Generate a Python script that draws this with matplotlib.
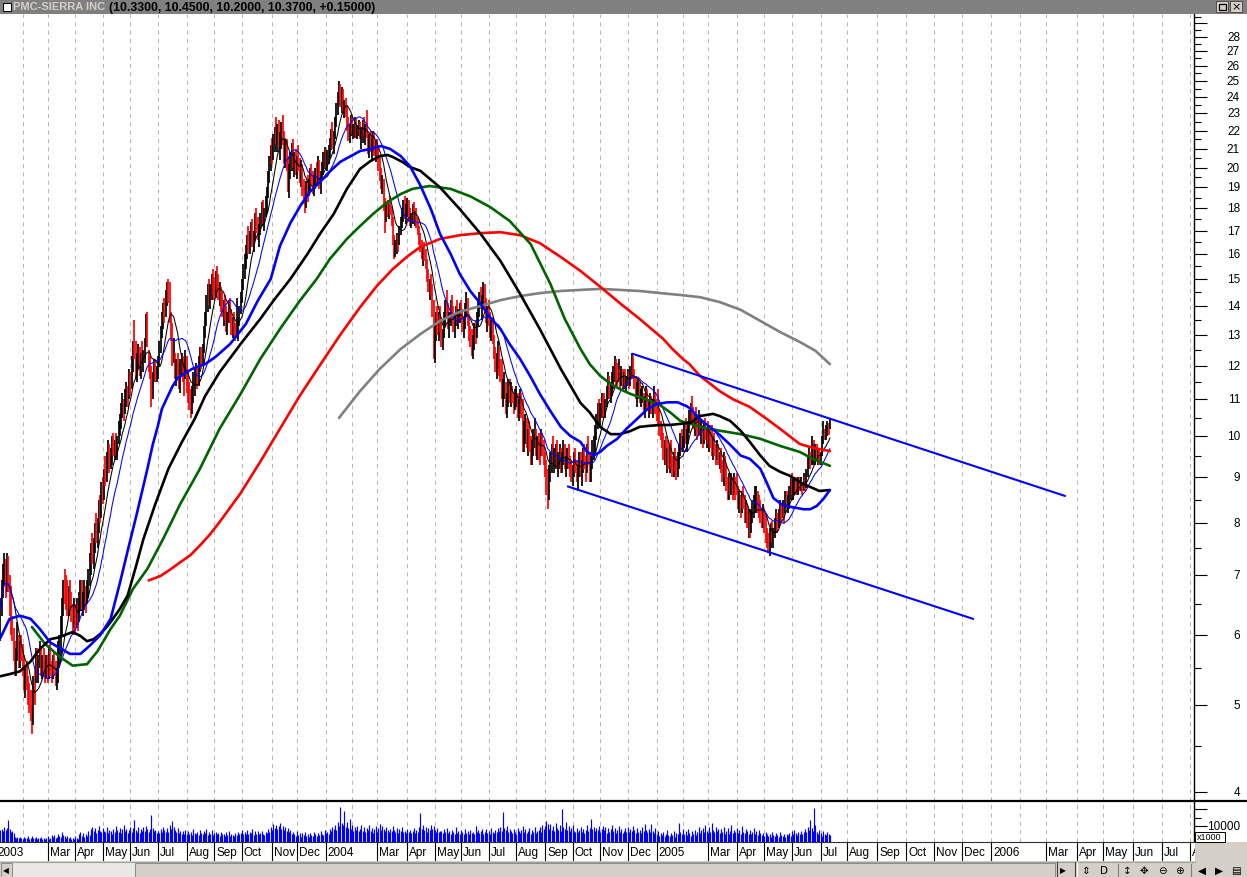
import numpy as np
import pandas as pd
import matplotlib
matplotlib.use("Agg")
import matplotlib.pyplot as plt
import matplotlib.transforms as mtrans
from matplotlib.patches import Rectangle
from matplotlib.lines import Line2D

plt.rcParams['font.family'] = ['Liberation Sans', 'DejaVu Sans']

# ------------------------------------------------------------------ data
title_name = "PMC-SIERRA INC"
title_values = "(10.3300, 10.4500, 10.2000, 10.3700, +0.15000)"

first_session = "2003-01-02"
data_start = "2003-01-08"
axis_end = "2006-08-31"
nyse_holidays = ["2003-01-01", "2003-01-20", "2003-02-17", "2003-04-18", "2003-05-26",
                 "2003-07-04", "2003-09-01", "2003-11-27", "2003-12-25",
                 "2004-01-01", "2004-01-19", "2004-02-16", "2004-04-09", "2004-05-31",
                 "2004-06-11", "2004-07-05", "2004-09-06", "2004-11-25", "2004-12-24",
                 "2005-01-17", "2005-02-21", "2005-03-25", "2005-05-30", "2005-07-04",
                 "2005-09-05", "2005-11-24", "2005-12-26"]
month_names = ["Jan", "Feb", "Mar", "Apr", "May", "Jun",
               "Jul", "Aug", "Sep", "Oct", "Nov", "Dec"]

high = [
    6.6, 6.9, 7.2, 7.4, 7.3, 7.4, 7.35, 7.0, 6.8, 6.3,
    6.1, 5.9, 5.8, 6.2, 6.0, 5.9, 6.0, 5.85, 5.7, 5.5,
    5.6, 5.4, 5.3, 5.2, 5.0, 5.4, 5.5, 5.8, 5.8, 5.7,
    5.9, 5.8, 5.7, 5.8, 5.6, 5.7, 5.7, 5.8, 5.85, 5.6,
    5.7, 5.75, 5.6, 5.5, 5.9, 6.0, 6.3, 6.6, 6.9, 7.1,
    7.0, 6.9, 6.8, 6.9, 6.7, 6.5, 6.6, 6.5, 6.6, 6.5,
    6.7, 6.9, 6.9, 6.7, 6.9, 6.8, 6.9, 7.1, 7.4, 7.6,
    7.8, 7.7, 8.0, 8.2, 8.1, 8.5, 8.6, 8.9, 9.0, 9.2,
    9.5, 9.6, 9.9, 9.8, 9.7, 10.0, 10.1, 9.9, 10.1, 10.0,
    10.4, 10.6, 10.9, 11.2, 11.0, 11.3, 11.5, 11.4, 11.9, 11.8,
    12.3, 12.8, 13.5, 12.8, 12.4, 12.7, 12.6, 12.4, 12.8, 12.5,
    12.9, 13.7, 13.8, 12.5, 12.3, 12.0, 11.8, 12.2, 12.2, 12.0,
    12.3, 12.8, 13.3, 13.8, 14.1, 14.3, 14.6, 14.9, 15.0, 14.9,
    13.8, 13.4, 12.9, 12.4, 12.2, 12.4, 12.1, 12.2, 12.4, 12.3,
    12.0, 12.5, 12.3, 11.8, 11.5, 11.3, 11.4, 11.8, 11.9, 12.1,
    12.0, 12.3, 12.6, 12.6, 12.7, 13.3, 13.8, 14.4, 14.8, 15.0,
    14.8, 15.2, 15.4, 15.1, 15.3, 15.5, 15.2, 14.9, 14.7, 14.5,
    14.2, 14.4, 14.0, 13.8, 14.2, 14.3, 13.9, 13.6, 13.8, 13.4,
    14.3, 13.6, 14.0, 14.5, 15.0, 15.6, 16.0, 16.4, 16.8, 17.2,
    17.0, 17.4, 17.5, 17.0, 17.8, 18.0, 17.6, 17.3, 17.8, 18.3,
    18.4, 18.0, 18.6, 19.0, 19.8, 20.6, 21.2, 21.6, 21.8, 22.2,
    22.8, 22.4, 22.6, 21.9, 22.5, 22.9, 22.0, 21.5, 21.5, 20.6,
    20.2, 20.8, 21.3, 21.5, 20.8, 21.0, 20.6, 21.2, 20.5, 20.4,
    20.2, 19.4, 19.0, 19.3, 19.6, 19.4, 20.0, 20.2, 19.8, 19.6,
    20.0, 20.3, 20.6, 20.4, 19.8, 20.3, 20.8, 21.1, 21.0, 20.9,
    21.2, 21.6, 22.1, 22.5, 22.0, 22.8, 23.6, 24.3, 25.0, 24.8,
    24.6, 24.5, 23.8, 23.9, 23.5, 22.8, 22.4, 22.9, 22.9, 22.4,
    22.8, 22.7, 22.3, 22.6, 22.5, 22.2, 22.6, 22.8, 22.4, 23.2,
    22.0, 21.8, 22.0, 21.6, 22.0, 21.9, 21.4, 21.5, 21.2, 20.6,
    20.0, 19.6, 19.4, 18.5, 18.2, 18.4, 18.2, 18.6, 18.1, 17.6,
    16.8, 16.6, 16.9, 16.8, 17.2, 17.6, 18.0, 18.4, 18.6, 18.2,
    18.5, 18.4, 18.0, 17.8, 18.2, 18.3, 17.9, 18.0, 17.6, 17.2,
    16.9, 16.6, 16.4, 16.5, 16.2, 15.8, 15.4, 15.0, 15.2, 14.8,
    14.2, 13.4, 13.8, 14.0, 13.8, 14.0, 13.6, 13.2, 13.8, 14.2,
    14.6, 14.1, 13.8, 14.2, 14.4, 14.0, 13.7, 14.0, 14.2, 13.9,
    14.1, 14.2, 13.9, 13.6, 14.1, 14.5, 14.3, 13.7, 13.3, 13.2,
    13.0, 13.4, 13.5, 13.8, 14.2, 14.5, 14.7, 14.4, 14.9, 14.8,
    14.3, 14.0, 14.2, 13.8, 13.5, 13.6, 13.0, 12.6, 12.4, 12.8,
    12.6, 12.2, 12.2, 11.6, 11.8, 11.5, 11.2, 11.6, 11.6, 11.5,
    11.4, 11.2, 11.3, 11.4, 11.2, 11.0, 11.3, 11.2, 11.0, 10.4,
    10.6, 10.5, 10.2, 10.4, 10.0, 9.9, 10.2, 10.5, 10.2, 10.0,
    10.1, 9.9, 10.2, 10.1, 9.9, 9.6, 9.4, 9.2, 9.3, 9.6,
    9.8, 10.0, 9.7, 9.8, 9.9, 9.6, 9.8, 9.7, 9.6, 9.9,
    9.8, 9.5, 9.7, 9.8, 9.5, 9.4, 9.3, 9.6, 9.7, 9.4,
    9.3, 9.6, 9.6, 9.4, 9.7, 9.8, 9.5, 9.8, 10.0, 9.6,
    9.5, 9.9, 10.0, 10.3, 10.6, 10.9, 11.0, 10.9, 11.2, 11.1,
    11.2, 11.0, 11.4, 11.8, 11.7, 11.5, 11.8, 12.0, 12.3, 12.2,
    12.1, 12.2, 11.9, 12.0, 11.9, 11.8, 11.9, 11.7, 11.9, 11.8,
    12.0, 12.4, 12.3, 11.9, 11.7, 11.5, 11.6, 11.5, 11.3, 11.4,
    11.2, 11.1, 11.4, 11.3, 11.0, 11.2, 11.1, 11.0, 11.4, 11.2,
    11.0, 11.3, 10.7, 10.4, 10.3, 10.1, 9.9, 10.0, 9.7, 9.9,
    9.8, 9.9, 9.5, 9.6, 9.7, 9.5, 9.6, 9.8, 10.1, 10.2,
    10.0, 10.4, 10.5, 10.2, 10.4, 10.7, 10.9, 11.1, 10.8, 10.6,
    10.8, 10.5, 10.7, 10.6, 10.4, 10.3, 10.4, 10.5, 10.2, 10.4,
    10.2, 10.3, 10.3, 10.0, 10.1, 9.8, 9.9, 9.8, 9.6, 9.7,
    9.4, 9.6, 9.5, 9.3, 9.0, 9.1, 9.0, 9.1, 9.0, 9.1,
    9.0, 9.1, 8.8, 8.7, 8.6, 8.7, 8.8, 8.6, 8.5, 8.4,
    8.3, 8.2, 8.3, 8.5, 8.6, 8.8, 8.8, 8.7, 8.6, 8.5,
    8.3, 8.4, 8.3, 8.2, 7.9, 7.8, 7.9, 8.0, 8.05, 7.9,
    8.1, 8.3, 8.2, 8.3, 8.5, 8.4, 8.5, 8.4, 8.7, 8.7,
    8.6, 8.8, 9.0, 9.1, 9.0, 9.0, 9.0, 8.9, 9.0, 9.0,
    9.0, 8.9, 9.1, 9.0, 9.2, 9.5, 9.7, 9.6, 10.0, 9.8,
    9.9, 9.8, 9.8, 9.7, 9.7, 9.6, 10.0, 10.4, 10.2, 10.3,
    10.4, 10.35, 10.45]

low = [
    5.9, 6.3, 6.6, 6.8, 6.6, 6.7, 6.7, 6.3, 6.0, 5.9,
    5.6, 5.4, 5.4, 5.6, 5.5, 5.5, 5.6, 5.4, 5.2, 5.1,
    5.2, 5.0, 4.9, 4.8, 4.65, 4.75, 5.0, 5.3, 5.4, 5.3,
    5.5, 5.4, 5.35, 5.4, 5.3, 5.35, 5.3, 5.35, 5.4, 5.3,
    5.35, 5.4, 5.25, 5.2, 5.3, 5.5, 5.6, 6.0, 6.3, 6.5,
    6.4, 6.3, 6.3, 6.4, 6.2, 6.0, 6.1, 6.0, 6.1, 6.05,
    6.2, 6.4, 6.4, 6.3, 6.4, 6.35, 6.5, 6.6, 6.8, 7.0,
    7.2, 7.1, 7.4, 7.6, 7.5, 7.8, 8.0, 8.1, 8.4, 8.5,
    8.8, 8.9, 9.2, 9.1, 9.2, 9.3, 9.5, 9.4, 9.5, 9.4,
    9.8, 10.0, 10.2, 10.5, 10.4, 10.6, 10.8, 10.8, 11.0, 11.1,
    11.3, 11.8, 12.2, 11.6, 11.5, 11.9, 11.7, 11.6, 12.0, 11.8,
    12.1, 12.6, 12.6, 11.8, 11.6, 10.8, 11.0, 11.5, 11.5, 11.5,
    11.6, 12.0, 12.4, 12.9, 13.2, 13.4, 13.6, 14.0, 14.1, 13.4,
    12.8, 12.0, 12.1, 11.6, 11.4, 11.6, 11.3, 11.2, 11.7, 11.5,
    11.1, 11.6, 11.2, 10.9, 10.7, 10.5, 10.6, 10.9, 11.1, 11.4,
    11.3, 11.4, 11.8, 11.9, 12.0, 12.4, 12.9, 13.3, 13.8, 14.0,
    13.9, 14.2, 14.4, 14.2, 14.3, 14.5, 14.2, 14.0, 13.8, 13.6,
    13.3, 13.5, 13.1, 13.0, 13.4, 13.4, 13.0, 12.9, 13.0, 12.8,
    12.9, 12.8, 13.3, 13.7, 14.1, 14.6, 15.0, 15.4, 15.8, 16.0,
    16.0, 16.4, 16.3, 16.1, 16.6, 16.9, 16.6, 16.3, 16.8, 17.2,
    17.3, 17.0, 17.6, 17.8, 18.5, 19.2, 19.8, 20.2, 20.4, 20.8,
    21.2, 20.8, 21.0, 20.4, 21.0, 21.2, 20.2, 20.0, 19.8, 18.8,
    18.5, 19.4, 19.8, 20.0, 19.5, 19.6, 19.4, 19.8, 19.2, 19.0,
    18.6, 18.2, 17.8, 18.0, 18.3, 18.6, 18.8, 19.0, 18.7, 18.6,
    18.9, 19.1, 19.2, 18.9, 18.7, 19.3, 19.6, 19.9, 20.0, 19.8,
    20.2, 20.5, 20.9, 21.0, 20.7, 21.5, 22.2, 22.9, 23.5, 23.4,
    23.0, 23.1, 22.7, 22.8, 22.0, 21.4, 21.3, 21.7, 21.8, 21.5,
    21.6, 21.6, 21.5, 21.7, 21.5, 21.0, 21.3, 21.7, 21.2, 21.6,
    20.7, 20.5, 20.8, 20.4, 20.8, 20.6, 20.3, 20.4, 19.8, 19.3,
    18.9, 18.7, 17.9, 16.9, 17.4, 17.6, 17.5, 17.7, 17.2, 16.4,
    15.8, 15.9, 16.0, 16.1, 16.4, 16.8, 17.1, 17.4, 17.5, 17.3,
    17.6, 17.4, 17.2, 17.1, 17.3, 17.4, 17.2, 17.1, 16.8, 16.4,
    16.1, 15.8, 15.5, 15.7, 15.4, 14.9, 14.5, 14.2, 14.4, 13.6,
    12.2, 12.1, 12.8, 13.0, 12.8, 13.1, 12.6, 12.5, 12.9, 13.3,
    13.6, 13.2, 12.9, 13.3, 13.5, 13.1, 12.9, 13.3, 13.4, 13.2,
    13.4, 13.5, 13.1, 12.9, 13.2, 13.6, 13.3, 12.8, 12.6, 12.3,
    12.2, 12.5, 12.7, 12.9, 13.3, 13.6, 13.9, 13.5, 13.9, 13.8,
    13.4, 13.1, 13.3, 12.9, 12.8, 12.7, 12.2, 11.8, 11.6, 11.9,
    11.7, 11.5, 11.0, 10.8, 11.0, 10.6, 10.5, 10.8, 10.9, 10.8,
    10.9, 10.6, 10.7, 10.8, 10.5, 10.4, 10.6, 10.5, 9.6, 9.6,
    9.8, 9.7, 9.5, 9.6, 9.3, 9.3, 9.5, 9.7, 9.5, 9.4,
    9.4, 9.3, 9.5, 9.5, 9.3, 9.0, 8.6, 8.3, 8.5, 8.9,
    9.1, 9.3, 9.1, 9.2, 9.2, 9.0, 9.2, 9.1, 9.1, 9.3,
    9.2, 9.0, 9.2, 9.2, 9.0, 8.9, 8.8, 9.0, 9.1, 8.9,
    8.7, 9.0, 9.0, 8.8, 9.1, 9.2, 8.9, 9.1, 9.3, 8.9,
    8.9, 9.2, 9.4, 9.6, 9.9, 10.2, 10.4, 10.3, 10.5, 10.5,
    10.6, 10.5, 10.8, 11.0, 11.0, 10.9, 11.1, 11.3, 11.5, 11.4,
    11.4, 11.5, 11.3, 11.4, 11.3, 11.3, 11.4, 11.2, 11.4, 11.3,
    11.4, 11.7, 11.6, 11.3, 11.0, 10.8, 11.0, 10.9, 10.8, 10.9,
    10.6, 10.5, 10.8, 10.7, 10.5, 10.6, 10.6, 10.5, 10.8, 10.6,
    10.4, 10.3, 10.0, 9.9, 9.7, 9.4, 9.3, 9.3, 9.1, 9.2,
    9.1, 9.2, 9.0, 9.0, 9.1, 8.95, 9.0, 9.2, 9.5, 9.6,
    9.6, 9.7, 9.8, 9.6, 9.8, 10.1, 10.3, 10.4, 10.2, 10.0,
    10.2, 9.9, 10.0, 10.0, 9.8, 9.7, 9.8, 9.9, 9.7, 9.8,
    9.6, 9.7, 9.5, 9.4, 9.5, 9.3, 9.4, 9.3, 9.2, 9.1,
    8.9, 8.8, 9.0, 8.7, 8.5, 8.5, 8.6, 8.6, 8.5, 8.6,
    8.5, 8.6, 8.3, 8.2, 8.1, 8.2, 8.3, 8.0, 8.0, 7.9,
    7.7, 7.7, 7.8, 8.0, 8.1, 8.3, 8.2, 8.2, 8.1, 8.0,
    7.9, 7.9, 7.8, 7.6, 7.5, 7.4, 7.35, 7.5, 7.6, 7.5,
    7.7, 7.8, 7.8, 7.9, 8.0, 8.0, 8.1, 8.0, 8.2, 8.3,
    8.2, 8.3, 8.5, 8.6, 8.5, 8.6, 8.6, 8.6, 8.6, 8.7,
    8.7, 8.6, 8.7, 8.7, 8.75, 9.0, 9.2, 9.2, 9.3, 9.3,
    9.4, 9.3, 9.4, 9.3, 9.3, 9.3, 9.5, 9.8, 9.9, 9.9,
    10.0, 10.05, 10.2]

close = [
    6.4, 6.8, 7.0, 7.2, 6.8, 6.9, 6.75, 6.4, 6.1, 6.0,
    5.7, 5.5, 5.7, 6.0, 5.6, 5.8, 5.7, 5.5, 5.3, 5.4,
    5.3, 5.1, 5.0, 4.9, 4.8, 5.3, 5.1, 5.6, 5.5, 5.6,
    5.7, 5.5, 5.6, 5.5, 5.4, 5.6, 5.4, 5.7, 5.5, 5.4,
    5.6, 5.5, 5.3, 5.35, 5.8, 5.9, 6.2, 6.5, 6.8, 6.7,
    6.6, 6.4, 6.6, 6.5, 6.3, 6.1, 6.4, 6.2, 6.3, 6.15,
    6.6, 6.8, 6.5, 6.6, 6.8, 6.5, 6.85, 7.0, 7.3, 7.5,
    7.3, 7.6, 7.9, 7.7, 8.0, 8.4, 8.2, 8.8, 8.6, 9.1,
    9.0, 9.4, 9.7, 9.3, 9.5, 9.9, 9.6, 9.8, 9.6, 9.9,
    10.3, 10.5, 10.8, 11.0, 10.6, 11.2, 11.4, 11.0, 11.7, 11.3,
    12.1, 12.6, 12.4, 11.8, 12.2, 12.5, 11.9, 12.2, 12.1, 12.4,
    12.8, 13.5, 12.8, 12.0, 11.8, 11.0, 11.6, 12.0, 11.7, 11.9,
    12.2, 12.7, 13.1, 13.6, 13.9, 13.8, 14.4, 14.7, 14.3, 13.6,
    13.0, 12.3, 12.6, 11.8, 12.0, 11.9, 11.5, 12.0, 12.2, 11.7,
    11.4, 12.3, 11.4, 11.1, 10.9, 10.7, 11.2, 11.6, 11.7, 11.9,
    11.5, 12.2, 12.4, 12.0, 12.6, 13.2, 13.6, 14.1, 14.6, 14.3,
    14.5, 15.0, 14.8, 14.5, 15.1, 14.9, 14.4, 14.6, 14.0, 13.8,
    14.0, 13.7, 13.3, 13.6, 14.0, 13.6, 13.2, 13.4, 13.2, 13.0,
    13.1, 13.5, 13.9, 14.3, 14.8, 15.4, 15.8, 16.2, 16.6, 16.4,
    16.8, 17.2, 16.5, 16.8, 17.6, 17.2, 16.9, 17.1, 17.6, 18.1,
    17.5, 17.8, 18.4, 18.9, 19.6, 20.4, 21.0, 20.6, 21.5, 22.0,
    21.6, 22.1, 21.3, 21.6, 22.2, 21.5, 20.5, 21.2, 20.0, 19.0,
    19.8, 20.5, 21.0, 20.3, 20.6, 19.8, 20.2, 20.0, 19.4, 20.0,
    18.8, 18.5, 18.2, 19.1, 18.6, 19.2, 19.8, 19.3, 19.0, 19.4,
    19.7, 19.5, 20.3, 19.2, 19.6, 20.1, 20.5, 20.9, 20.3, 20.7,
    21.0, 21.4, 21.8, 21.2, 21.8, 22.6, 23.4, 24.1, 24.6, 23.8,
    24.2, 23.3, 23.5, 23.0, 22.2, 21.6, 22.1, 22.6, 22.0, 22.2,
    22.5, 21.8, 22.1, 22.4, 21.7, 21.9, 22.3, 21.9, 22.2, 21.8,
    21.0, 21.5, 21.1, 21.3, 21.8, 20.8, 21.1, 20.6, 20.0, 19.5,
    19.2, 19.3, 18.0, 17.2, 18.0, 17.9, 18.1, 17.9, 17.4, 16.6,
    16.2, 16.4, 16.7, 16.6, 17.0, 17.4, 17.8, 18.2, 17.7, 18.0,
    18.3, 17.6, 17.4, 17.6, 18.0, 17.5, 17.7, 17.3, 17.0, 16.6,
    16.3, 16.0, 16.1, 15.9, 15.6, 15.1, 14.7, 14.8, 14.6, 13.8,
    12.5, 13.1, 13.6, 13.2, 13.5, 13.3, 12.8, 13.0, 13.6, 14.0,
    13.8, 13.4, 13.6, 14.0, 13.7, 13.3, 13.5, 13.8, 13.6, 13.7,
    14.0, 13.6, 13.3, 13.4, 13.9, 14.2, 13.5, 13.0, 12.9, 12.6,
    12.8, 13.2, 12.9, 13.6, 14.0, 14.3, 14.1, 14.2, 14.6, 14.0,
    13.6, 13.8, 13.5, 13.1, 13.3, 12.9, 12.4, 12.0, 12.2, 12.5,
    11.9, 11.7, 11.2, 11.4, 11.6, 10.8, 11.0, 11.4, 11.2, 11.3,
    11.0, 10.9, 11.1, 11.2, 10.7, 10.8, 11.1, 10.6, 9.8, 10.2,
    10.4, 9.9, 10.0, 9.8, 9.5, 9.7, 10.0, 10.2, 9.7, 9.8,
    9.6, 9.5, 10.0, 9.7, 9.4, 9.2, 8.8, 8.6, 9.1, 9.4,
    9.6, 9.4, 9.5, 9.7, 9.3, 9.4, 9.6, 9.2, 9.5, 9.7,
    9.3, 9.4, 9.6, 9.3, 9.2, 9.1, 9.2, 9.5, 9.3, 9.0,
    9.2, 9.5, 9.2, 9.3, 9.6, 9.4, 9.1, 9.7, 9.5, 9.0,
    9.4, 9.8, 9.9, 10.2, 10.5, 10.8, 10.6, 10.8, 11.0, 10.9,
    10.7, 10.9, 11.2, 11.6, 11.1, 11.3, 11.7, 11.8, 12.1, 11.9,
    11.6, 11.6, 11.5, 11.8, 11.4, 11.6, 11.5, 11.6, 11.8, 11.4,
    11.9, 12.2, 11.8, 11.5, 11.2, 11.3, 11.4, 11.0, 11.1, 11.3,
    10.9, 11.0, 11.2, 10.8, 10.9, 11.1, 10.8, 10.9, 11.0, 10.7,
    10.6, 10.4, 10.2, 10.0, 9.8, 9.6, 9.7, 9.4, 9.6, 9.5,
    9.7, 9.3, 9.2, 9.4, 9.2, 9.1, 9.5, 9.7, 10.0, 9.8,
    9.9, 10.1, 9.9, 10.1, 10.3, 10.6, 10.8, 10.6, 10.4, 10.5,
    10.3, 10.2, 10.6, 10.1, 10.2, 9.9, 10.3, 10.0, 10.1, 9.9,
    10.0, 9.8, 9.6, 9.8, 9.6, 9.5, 9.7, 9.4, 9.5, 9.2,
    9.0, 9.4, 9.1, 8.8, 8.6, 8.9, 8.7, 9.0, 8.6, 8.9,
    8.8, 8.7, 8.4, 8.5, 8.2, 8.6, 8.4, 8.1, 8.3, 8.0,
    8.1, 7.8, 8.2, 8.3, 8.5, 8.6, 8.7, 8.3, 8.2, 8.1,
    8.0, 8.2, 7.9, 7.7, 7.6, 7.5, 7.8, 7.9, 7.7, 7.8,
    8.0, 8.2, 8.0, 8.2, 8.4, 8.1, 8.4, 8.2, 8.6, 8.5,
    8.5, 8.7, 8.9, 8.7, 8.8, 8.9, 8.8, 8.7, 8.9, 8.8,
    8.9, 8.8, 9.0, 8.8, 9.1, 9.4, 9.6, 9.3, 9.5, 9.7,
    9.6, 9.7, 9.5, 9.6, 9.4, 9.5, 9.9, 10.2, 10.0, 10.1,
    10.3, 10.22, 10.37]

volume_m = [  # millions of shares
    7.5, 8.2, 6.9, 9.0, 7.1, 8.4, 13.5, 7.8, 6.2, 7.0,
    5.5, 3.1, 2.4, 2.9, 2.2, 3.0, 2.6, 2.1, 2.8, 2.3,
    2.5, 3.4, 2.0, 2.7, 3.6, 2.4, 2.2, 2.9, 2.1, 2.6,
    2.3, 3.2, 2.0, 2.5, 1.8, 2.4, 3.5, 2.1, 2.7, 4.2,
    3.0, 4.5, 2.6, 3.3, 5.1, 3.8, 2.9, 6.0, 4.2, 3.5,
    2.4, 3.9, 2.2, 3.0, 1.9, 2.6, 1.8, 3.4, 2.3, 2.0,
    4.6, 6.2, 3.7, 5.5, 2.8, 4.9, 3.6, 6.8, 4.1, 7.9,
    9.4, 6.5, 8.8, 5.7, 7.2, 10.1, 6.6, 5.9, 8.3, 7.0,
    6.1, 9.2, 5.4, 7.5, 6.8, 5.2, 8.0, 6.3, 9.6, 7.1,
    6.4, 8.7, 5.8, 7.7, 10.4, 6.9, 8.1, 5.6, 7.3, 9.0,
    6.2, 8.5, 13.6, 7.4, 6.0, 8.9, 5.5, 7.8, 6.7, 9.3,
    7.0, 9.5, 8.2, 6.3, 7.9, 16.5, 8.6, 6.5, 7.4, 5.7,
    6.9, 5.3, 8.0, 6.1, 9.1, 7.2, 6.4, 8.8, 5.9, 10.2,
    8.1, 12.8, 9.3, 7.5, 6.2, 8.6, 5.4, 7.0, 4.8, 6.5,
    5.2, 7.4, 4.6, 6.8, 5.0, 6.1, 4.3, 7.7, 5.6, 4.9,
    6.3, 4.4, 7.1, 5.3, 4.7, 6.6, 5.8, 7.9, 4.5, 6.0,
    5.1, 7.3, 4.2, 5.7, 6.4, 4.8, 5.5, 3.9, 6.2, 4.6,
    5.0, 3.8, 5.9, 4.4, 6.7, 3.6, 5.2, 4.1, 3.5, 5.4,
    4.0, 6.1, 4.7, 5.8, 7.5, 4.9, 6.3, 5.1, 7.2, 4.6,
    6.0, 5.3, 8.1, 4.4, 6.6, 5.0, 7.0, 4.8, 5.5, 6.9,
    5.2, 4.3, 6.4, 5.7, 7.8, 6.1, 9.0, 7.3, 11.2, 8.5,
    10.6, 7.9, 9.8, 11.5, 8.2, 10.1, 7.4, 9.2, 6.8, 8.6,
    5.9, 7.6, 4.8, 6.2, 5.0, 3.7, 6.9, 4.5, 5.6, 3.2,
    5.3, 4.1, 6.0, 3.6, 4.8, 2.9, 5.5, 4.2, 3.4, 6.4,
    4.6, 3.8, 5.7, 4.3, 6.5, 5.1, 4.0, 7.3, 5.4, 6.2,
    5.0, 7.8, 6.6, 9.2, 8.0, 10.5, 7.5, 12.0, 9.6, 21.7,
    11.5, 10.2, 18.8, 9.4, 12.2, 8.5, 14.0, 7.9, 10.6, 6.8,
    8.9, 7.2, 9.9, 6.5, 8.1, 10.4, 7.0, 9.1, 6.3, 8.4,
    7.6, 10.2, 6.9, 8.8, 5.8, 7.7, 9.5, 6.4, 8.3, 10.8,
    7.4, 9.7, 8.0, 6.6, 8.9, 7.1, 5.9, 8.2, 6.8, 9.9,
    7.3, 6.0, 8.5, 5.6, 7.8, 6.5, 9.2, 6.1, 7.0, 5.4,
    8.0, 6.3, 7.5, 5.8, 6.9, 8.6, 5.5, 7.2, 6.0, 9.4,
    17.6, 8.2, 10.5, 7.1, 9.0, 6.4, 8.7, 7.6, 10.3, 8.1,
    9.8, 7.4, 6.2, 8.5, 5.9, 7.0, 6.6, 5.3, 7.7, 6.1,
    8.4, 5.7, 6.8, 5.2, 7.3, 6.0, 4.9, 8.9, 5.6, 6.5,
    5.1, 7.6, 6.2, 4.8, 8.0, 5.5, 6.9, 4.6, 7.1, 5.8,
    6.4, 4.7, 9.5, 5.9, 7.2, 5.3, 6.6, 8.1, 5.0, 6.3,
    7.8, 5.4, 6.7, 4.9, 8.3, 6.1, 5.6, 7.4, 6.0, 8.6,
    6.8, 9.2, 7.0, 18.2, 8.8, 7.5, 10.1, 6.4, 8.0, 6.9,
    5.7, 7.7, 6.2, 5.1, 8.4, 6.6, 5.4, 7.2, 9.6, 6.3,
    7.9, 5.8, 6.5, 8.8, 5.2, 7.1, 6.0, 9.0, 5.5, 6.7,
    7.4, 8.9, 6.3, 10.4, 7.8, 9.5, 12.6, 11.0, 8.2, 10.8,
    7.5, 9.9, 6.8, 11.8, 8.4, 7.2, 10.6, 6.9, 20.0, 9.3,
    8.1, 12.2, 7.4, 9.6, 6.5, 8.7, 10.2, 7.0, 6.1, 8.3,
    5.9, 7.6, 9.0, 6.4, 8.0, 5.7, 7.3, 10.5, 6.6, 8.4,
    14.1, 7.9, 9.4, 6.8, 8.6, 7.2, 9.7, 6.3, 8.1, 10.0,
    7.1, 9.1, 5.8, 8.5, 6.4, 7.7, 10.3, 6.9, 8.8, 5.6,
    7.4, 9.6, 6.2, 8.0, 5.5, 7.0, 8.7, 6.0, 9.3, 5.9,
    7.8, 6.5, 10.1, 7.2, 5.7, 8.4, 6.3, 7.6, 5.4, 9.0,
    6.6, 11.2, 7.5, 5.9, 8.2, 6.4, 10.9, 7.0, 5.6, 8.3,
    4.8, 6.9, 3.9, 5.5, 4.4, 6.2, 3.6, 5.1, 7.4, 4.2,
    3.4, 5.6, 4.0, 6.8, 3.2, 5.3, 4.6, 11.8, 6.0, 4.9,
    7.7, 5.2, 6.5, 4.3, 8.0, 5.8, 3.9, 6.7, 5.0, 7.2,
    4.5, 6.1, 9.0, 5.4, 7.6, 8.5, 6.2, 10.6, 7.0, 5.7,
    8.9, 6.4, 11.5, 7.3, 5.9, 9.4, 6.8, 8.2, 5.5, 7.8,
    6.3, 9.1, 5.2, 7.0, 8.6, 4.9, 6.6, 10.4, 5.8, 7.4,
    6.0, 8.8, 5.3, 7.1, 4.7, 9.6, 6.2, 5.5, 8.0, 6.7,
    5.1, 7.5, 4.6, 6.3, 8.4, 5.0, 6.9, 4.4, 7.2, 5.6,
    4.1, 5.8, 3.5, 6.4, 4.6, 3.9, 5.2, 3.3, 6.1, 4.3,
    3.7, 5.5, 4.0, 3.2, 6.0, 4.5, 3.6, 5.1, 3.0, 4.8,
    4.2, 5.7, 3.8, 6.6, 4.9, 7.4, 5.3, 4.0, 6.2, 5.0,
    7.0, 4.6, 5.9, 8.1, 6.4, 9.3, 7.6, 13.5, 8.8, 6.9,
    21.0, 10.4, 6.1, 4.8, 7.2, 5.5, 3.9, 6.7, 5.1, 4.4,
    6.3, 5.0, 4.2]

# long moving averages: (bar number, value)
blue_avg_bar = [0, 7, 15, 23, 30, 38, 45, 53, 61, 68, 76, 84, 91, 97, 104, 112, 116, 120,
                123, 127, 131, 135, 141, 146, 151, 156, 164, 175, 187, 196, 206, 213, 221,
                229, 236, 244, 251, 259, 267, 274, 282, 290, 297, 305, 312, 320, 328, 335,
                343, 350, 358, 366, 373, 381, 388, 396, 404, 411, 419, 427, 434, 442, 447,
                452, 457, 462, 470, 477, 485, 493, 500, 508, 516, 523, 526, 533, 548, 556,
                564, 571, 579, 584, 589, 596, 604, 612, 617, 622, 627, 632]
blue_avg = [5.95, 6.25, 6.3, 6.25, 6.09, 5.88, 5.8, 5.71, 5.71, 5.83, 5.99, 6.25, 6.85,
            7.45, 8.2, 9.2, 9.78, 10.28, 10.73, 11.05, 11.37, 11.62, 11.78, 11.9, 11.98,
            12.05, 12.28, 12.69, 13.36, 14.18, 15.01, 16.34, 17.34, 18.17, 18.8, 19.3,
            19.8, 20.3, 20.6, 20.87, 20.98, 21.14, 20.98, 20.6, 20.08, 19.1, 17.97, 16.85,
            16.01, 15.2, 14.55, 14.07, 13.6, 13.19, 12.69, 12.21, 11.66, 11.16, 10.68,
            10.25, 10.02, 9.86, 9.61, 9.52, 9.61, 9.76, 9.94, 10.2, 10.46, 10.73, 10.87,
            10.92, 10.92, 10.81, 10.73, 10.46, 10.04, 9.79, 9.52, 9.44, 9.2, 8.87, 8.53,
            8.38, 8.33, 8.29, 8.29, 8.36, 8.51, 8.71]

black_avg_bar = [0, 7, 15, 23, 30, 38, 45, 51, 55, 61, 66, 71, 76, 81, 84, 91, 97, 103,
                 109, 118, 128, 138, 148, 156, 167, 183, 198, 209, 221, 234, 244, 254, 264,
                 274, 282, 289, 295, 299, 306, 312, 320, 335, 350, 366, 381, 396, 411, 427,
                 442, 449, 457, 465, 472, 480, 487, 495, 503, 510, 518, 526, 533, 543, 548,
                 556, 564, 571, 579, 586, 594, 602, 609, 617, 624, 632]
black_avg = [5.39, 5.42, 5.46, 5.6, 5.78, 5.93, 5.96, 6.01, 6.04, 5.98, 5.9, 5.93, 6.01,
             6.12, 6.2, 6.41, 6.64, 7.13, 7.68, 8.4, 9.2, 9.84, 10.46, 11.1, 11.8, 12.69,
             13.54, 14.25, 15.01, 16.01, 16.9, 17.75, 18.93, 19.93, 20.34, 20.6, 20.66,
             20.55, 20.3, 20.03, 19.83, 19.0, 17.97, 16.85, 15.72, 14.44, 13.19, 11.9,
             10.9, 10.64, 10.25, 10.06, 10.06, 10.14, 10.25, 10.28, 10.3, 10.3, 10.33,
             10.36, 10.54, 10.6, 10.54, 10.41, 10.15, 9.86, 9.52, 9.27, 9.13, 9.03, 8.89,
             8.78, 8.69, 8.71]

green_avg_bar = [24, 34, 45, 55, 66, 74, 84, 91, 101, 112, 124, 137, 152, 167, 183, 198,
                 213, 228, 241, 251, 264, 274, 284, 295, 305, 314, 327, 343, 358, 373, 388,
                 404, 419, 430, 442, 449, 457, 465, 472, 480, 487, 495, 503, 510, 518, 526,
                 533, 548, 564, 579, 594, 609, 619, 632]
green_avg = [6.12, 5.86, 5.67, 5.54, 5.56, 5.75, 6.09, 6.3, 6.75, 7.11, 7.68, 8.4, 9.2,
             10.2, 11.16, 12.21, 13.19, 14.18, 15.01, 15.8, 16.64, 17.2, 17.75, 18.3,
             18.68, 18.93, 19.07, 18.93, 18.57, 18.07, 17.43, 16.42, 14.82, 13.54, 12.53,
             12.05, 11.69, 11.45, 11.3, 11.16, 11.07, 10.96, 10.83, 10.65, 10.41, 10.33,
             10.25, 10.15, 10.06, 9.94, 9.76, 9.61, 9.44, 9.27]

red_avg_bar = [113, 122, 129, 137, 145, 152, 160, 167, 183, 198, 213, 228, 244, 259, 274,
               287, 299, 310, 320, 335, 350, 366, 381, 396, 411, 427, 442, 457, 472, 487,
               505, 512, 520, 525, 533, 541, 548, 558, 571, 584, 594, 602, 609, 617, 624, 632]
red_avg = [6.9, 6.98, 7.09, 7.23, 7.37, 7.55, 7.78, 8.02, 8.64, 9.37, 10.2, 11.1, 12.05,
           13.0, 13.95, 14.75, 15.4, 15.9, 16.3, 16.64, 16.8, 16.89, 16.93, 16.8, 16.46,
           15.88, 15.32, 14.71, 14.1, 13.54, 12.86, 12.53, 12.21, 12.05, 11.69, 11.45,
           11.24, 11.01, 10.79, 10.46, 10.2, 9.99, 9.81, 9.73, 9.68, 9.63]

gray_avg_bar = [258, 274, 289, 305, 320, 335, 350, 366, 381, 396, 411, 427, 442, 457, 472,
                487, 503, 518, 533, 548, 564, 579, 594, 609, 621, 632]
gray_avg = [10.49, 11.24, 11.9, 12.53, 13.02, 13.47, 13.79, 14.0, 14.21, 14.36, 14.47,
            14.55, 14.59, 14.63, 14.59, 14.55, 14.47, 14.4, 14.32, 14.14, 13.86, 13.47,
            13.09, 12.76, 12.47, 12.05]

# hand-drawn trend channel (bar number, price)
upper_trend_bar = [482, 811]
upper_trend = [12.37, 8.58]
lower_trend_bar = [432.5, 741]
lower_trend = [8.79, 6.25]

price_tick_values = list(range(4, 30))
price_tick_labels = [str(v) for v in range(4, 29)] + [""]
price_minor_values = [v + 0.5 for v in range(4, 30)]
volume_tick_values = [10000, 20000]
volume_tick_labels = ["10000", ""]
volume_minor_values = [5000, 15000]

# ------------------------------------------------------------------ calendar
n = min(len(high), len(low), len(close), len(volume_m))
high = np.array(high[:n]); low = np.array(low[:n]); close = np.array(close[:n])
vol = np.array(volume_m[:n]) * 1000.0   # thousands of shares

hist_all = pd.bdate_range(first_session, "2005-12-30", freq="C", holidays=nyse_holidays)
start_idx = int(hist_all.get_loc(pd.Timestamp(data_start)))
hist = hist_all[:start_idx + n]
future = pd.bdate_range(hist[-1] + pd.Timedelta(days=1), axis_end, freq="B")
cal = hist.append(future)
xs = start_idx + np.arange(n)

mon = cal.month.values
month_idx = [0] + [i for i in range(1, len(cal)) if mon[i] != mon[i - 1]]

prev = np.r_[close[0], close[:-1]]
bar_colors = np.where(close >= prev, "#000000", "#FF0000")
sma_fast = pd.Series(close).rolling(10, min_periods=1).mean().values
sma_mid = pd.Series(close).rolling(20, min_periods=1).mean().values

# ------------------------------------------------------------------ figure
W, H = 1247, 878
fig = plt.figure(figsize=(W / 100, H / 100), dpi=100)
fig.patch.set_facecolor("white")


def frect(x0, y0, x1, y1):
    return [x0 / W, 1 - y1 / H, (x1 - x0) / W, (y1 - y0) / H]


def fig_box(x0, y0, x1, y1, **kw):
    r = Rectangle((x0 / W, 1 - y1 / H), (x1 - x0) / W, (y1 - y0) / H,
                  transform=fig.transFigure, **kw)
    fig.add_artist(r)
    return r


def fig_line(x0, y0, x1, y1, **kw):
    fig.add_artist(Line2D([x0 / W, x1 / W], [1 - y0 / H, 1 - y1 / H],
                          transform=fig.transFigure, **kw))


def fig_txt(x, y, s, **kw):
    return fig.text(x / W, 1 - y / H, s, **kw)


PX_PER_BAR = 1.3125
X0 = 3.70
XLIM = (X0, X0 + 1194 / PX_PER_BAR)

ax = fig.add_axes(frect(0, 15, 1194, 802))
axv = fig.add_axes(frect(0, 803, 1194, 843))
axd = fig.add_axes(frect(0, 843, 1195, 862))

grid_kw = dict(color="#B8B8B8", lw=0.75, ls=(0, (4, 4)), zorder=0)

# ---- price panel
ax.set_yscale("log")
ax.set_xlim(*XLIM)
ax.set_ylim(3.908, 29.71)
for m in month_idx:
    ax.axvline(m, **grid_kw)
ax.vlines(xs, low, high, colors=bar_colors, lw=1.25, zorder=2)
ax.plot(xs, sma_fast, color="black", lw=0.75, zorder=3)
ax.plot(xs, sma_mid, color="#0000FF", lw=0.75, zorder=3)
thick = dict(lw=1.9, zorder=4, solid_capstyle="round", solid_joinstyle="round")
ax.plot(start_idx + np.array(gray_avg_bar), gray_avg, color="#808080", **thick)
ax.plot(start_idx + np.array(red_avg_bar), red_avg, color="#FF0000", **thick)
ax.plot(start_idx + np.array(green_avg_bar), green_avg, color="#006400", **thick)
ax.plot(start_idx + np.array(black_avg_bar), black_avg, color="#000000", **thick)
ax.plot(start_idx + np.array(blue_avg_bar), blue_avg, color="#0000FF", **thick)
ax.plot(start_idx + np.array(upper_trend_bar), upper_trend, color="#0000FF", lw=1.5, zorder=5)
ax.plot(start_idx + np.array(lower_trend_bar), lower_trend, color="#0000FF", lw=1.5, zorder=5)

for s in ["left", "top", "bottom"]:
    ax.spines[s].set_visible(False)
ax.spines["right"].set_linewidth(1.0)
ax.set_xticks([])
ax.yaxis.tick_right()
ax.set_yticks(price_tick_values)
ax.set_yticks(price_minor_values, minor=True)
ax.tick_params(axis="y", which="major", length=9, width=0.8, labelright=False, right=True, left=False)
ax.tick_params(axis="y", which="minor", length=5, width=0.8, labelright=False, right=True, left=False)
btr = mtrans.blended_transform_factory(ax.transAxes, ax.transData)
for v, lab in zip(price_tick_values, price_tick_labels):
    ax.text(1240 / 1194, v, lab, transform=btr, ha="right", va="center",
            fontsize=8.5, clip_on=False)

# ---- volume panel
axv.set_xlim(*XLIM)
axv.set_ylim(0, 24500)
for m in month_idx:
    axv.axvline(m, **grid_kw)
axv.vlines(xs, 0, vol, colors="#0000FF", lw=0.85, zorder=2)
for s in ["left", "top", "bottom"]:
    axv.spines[s].set_visible(False)
axv.spines["right"].set_linewidth(1.0)
axv.set_xticks([])
axv.yaxis.tick_right()
axv.set_yticks(volume_tick_values)
axv.set_yticks(volume_minor_values, minor=True)
axv.tick_params(axis="y", which="major", length=9, width=0.8, labelright=False, right=True, left=False)
axv.tick_params(axis="y", which="minor", length=5, width=0.8, labelright=False, right=True, left=False)
btv = mtrans.blended_transform_factory(axv.transAxes, axv.transData)
for v, lab in zip(volume_tick_values, volume_tick_labels):
    axv.text(1240 / 1194, v, lab, transform=btv, ha="right", va="center",
             fontsize=8.5, clip_on=False)

# ---- date band
axd.set_xlim(X0, X0 + 1195 / PX_PER_BAR)
axd.set_ylim(0, 1)
axd.set_xticks([]); axd.set_yticks([])
for s in axd.spines.values():
    s.set_visible(False)
lab_tr = mtrans.offset_copy(axd.transData, fig=fig, x=2, y=0, units="dots")
for m in month_idx:
    d = cal[m]
    if d.month == 2:
        continue
    axd.axvline(m, color="black", lw=0.8)
    txt = str(d.year) if d.month == 1 else month_names[d.month - 1]
    axd.text(m, 0.45, txt, transform=lab_tr, ha="left", va="center",
             fontsize=8.5, clip_on=True)

# ---- frame, separators
fig_line(0, 802, W, 802, color="black", lw=1.6)
fig_line(0, 843, 1195, 843, color="#303030", lw=0.8)
fig_box(1195, 843, W, 862, facecolor="#D4D0C8", edgecolor="none")
fig_box(0, 862, W, H, facecolor="#D4D0C8", edgecolor="none")
fig_line(0, 862.5, 1195, 862.5, color="#A0A0A0", lw=0.8)
fig_box(1195, 833, 1225, 843, facecolor="white", edgecolor="black", lw=0.7)
fig_txt(1197, 838, "x1000", fontsize=6.5, va="center", ha="left")

# title bar
fig_box(0, 0, W, 15, facecolor="#808080", edgecolor="none")
fig_box(3, 4, 11, 12, facecolor="white", edgecolor="black", lw=0.7)
t1 = fig_txt(13, 7.5, title_name, color="#D4D0C8", fontsize=8.0, fontweight="bold",
             va="center")
renderer = fig.canvas.get_renderer()
bb = t1.get_window_extent(renderer=renderer)
fig.text(bb.x1 / W + 4 / W, 1 - 7.5 / H, title_values, color="black", fontsize=8.8,
         fontweight="bold", va="center")
fig_box(1216, 2, 1228, 13, facecolor="#D4D0C8", edgecolor="#404040", lw=0.6)
fig_box(1218.5, 4.5, 1225.5, 10.5, facecolor="none", edgecolor="black", lw=0.9)
fig_box(1230, 2, 1242, 13, facecolor="#D4D0C8", edgecolor="#404040", lw=0.6)
fig_txt(1236, 7.5, "×", fontsize=8, ha="center", va="center", family="DejaVu Sans")

# scrollbar + toolbar
fig_box(0.5, 864, 12, 877.5, facecolor="#D4D0C8", edgecolor="#808080", lw=0.6)
fig_txt(6, 871, "◀", fontsize=5.5, ha="center", va="center", family="DejaVu Sans")
fig_box(13, 864, 135, 877.5, facecolor="#EAE8E4", edgecolor="none")
fig_box(135, 864, 1055, 877.5, facecolor="#D4D0C8", edgecolor="#808080", lw=0.6)
fig_line(1056.5, 863, 1056.5, 878, color="#404040", lw=0.8)
fig_txt(1063, 871, "▶", fontsize=5.5, ha="center", va="center", family="DejaVu Sans")
fig_line(1074.5, 863, 1074.5, 878, color="#404040", lw=0.8)
fig_line(1076.5, 863, 1076.5, 878, color="white", lw=0.8)
icons = [(1086, "⇕"), (1104, "D"), (1127, "↕"), (1144, "✥"), (1162, "⊖"), (1179, "⊕"),
         (1202, "◀"), (1219, "▶"), (1236, "▤")]
for xx, g in icons:
    fig_txt(xx, 871, g, fontsize=7.5, ha="center", va="center",
            family=["DejaVu Sans", "DejaVu Serif"])
fig_line(1117.5, 865, 1117.5, 877, color="#808080", lw=0.8)
fig_line(1190.5, 865, 1190.5, 877, color="#808080", lw=0.8)

fig.savefig("out.png", dpi=100)
